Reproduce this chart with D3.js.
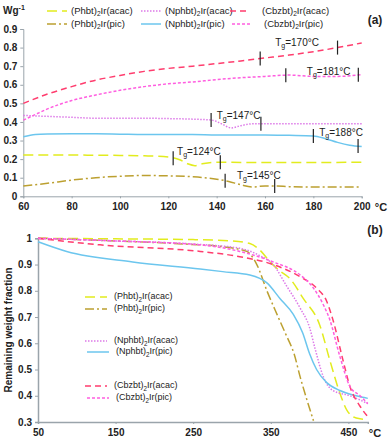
<!DOCTYPE html>
<html>
<head>
<meta charset="utf-8">
<script src="https://cdnjs.cloudflare.com/ajax/libs/d3/7.8.5/d3.min.js"></script>
<style>
  body { margin: 0; background: #fff; }
  svg { font-family: "Liberation Sans", Arial, sans-serif; }
</style>
</head>
<body>
<div id="chart"></div>
<script>
// series names
var names = ["(Phbt)|2|Ir(acac)", "(Phbt)|2|Ir(pic)", "(Nphbt)|2|Ir(acac)",
             "(Nphbt)|2|Ir(pic)", "(Cbzbt)|2|Ir(acac)", "(Cbzbt)|2|Ir(pic)"];
var colors = ["#e2ec1e", "#bca030", "#dd7ae8", "#6cc6ee", "#ff3d6e", "#ff5ee0"];
var dashes = ["10,5", "9,3,2,3", "1.5,1.5", null, "6,4", "3,2"];

// panel (a): heat capacity vs temperature
var tA = [
  [60, 70, 80, 90, 100, 110, 120, 125, 128, 131, 134, 137, 140, 160, 180, 200],
  [60, 70, 80, 90, 100, 110, 120, 130, 135, 140, 145, 150, 155, 160, 165, 170, 180, 200],
  [60, 70, 80, 90, 100, 110, 120, 130, 138, 142, 146, 150, 155, 160, 180, 200],
  [60, 65, 70, 80, 90, 100, 110, 120, 130, 140, 150, 160, 170, 180, 185, 190, 195, 200],
  [60, 70, 80, 90, 100, 110, 120, 130, 140, 150, 160, 170, 180, 190, 200],
  [60, 65, 70, 80, 90, 100, 110, 120, 130, 140, 150, 160, 170, 180, 190, 200]
];
var vA = [
  [0.222, 0.222, 0.222, 0.221, 0.22, 0.218, 0.212, 0.195, 0.175, 0.165, 0.175, 0.181, 0.183, 0.182, 0.182, 0.183],
  [0.055, 0.07, 0.087, 0.1, 0.108, 0.112, 0.11, 0.105, 0.1, 0.092, 0.08, 0.062, 0.05, 0.056, 0.055, 0.052, 0.05, 0.05],
  [0.435, 0.43, 0.425, 0.42, 0.42, 0.42, 0.418, 0.415, 0.41, 0.39, 0.368, 0.38, 0.39, 0.39, 0.39, 0.39],
  [0.32, 0.333, 0.335, 0.336, 0.336, 0.334, 0.332, 0.332, 0.332, 0.33, 0.33, 0.33, 0.328, 0.325, 0.31, 0.29, 0.275, 0.268],
  [0.5, 0.55, 0.59, 0.625, 0.65, 0.672, 0.688, 0.7, 0.714, 0.728, 0.744, 0.76, 0.778, 0.8, 0.825],
  [0.41, 0.44, 0.47, 0.515, 0.545, 0.57, 0.59, 0.605, 0.615, 0.628, 0.638, 0.645, 0.652, 0.645, 0.645, 0.655]
];
// glass transition markers (two per series) and labels
var tgMarks = [[122, 141.5], [143.5, 164], [137.7, 158.3], [180, 198.5], [158, 190], [168.6, 198.6]];
var tgText = ["124", "145", "147", "188", "170", "181"];
var tgAt = [[123.6, 0.24], [148.4, 0.11], [140, 0.433], [182.4, 0.342], [164.2, 0.822], [177.3, 0.67]];

// panel (b): TGA
var tB = [
  [50, 150, 250, 300, 323, 336, 349, 362, 375, 392, 413, 426, 439, 448, 456, 465, 475],
  [50, 150, 246, 288, 319, 332, 345, 358, 370, 380, 388, 397, 405],
  [50, 150, 250, 310, 335, 353, 370, 388, 400, 407, 418, 430, 452, 475],
  [50, 87, 172, 259, 288, 323, 345, 362, 379, 391, 400, 409, 422, 439, 460, 475],
  [50, 130, 259, 310, 353, 388, 409, 422, 430, 443, 452, 465, 475],
  [50, 150, 259, 310, 353, 388, 405, 418, 426, 439, 452, 465, 475]
];
var vB = [
  [1, 0.998, 0.995, 0.99, 0.98, 0.955, 0.91, 0.875, 0.845, 0.77, 0.67, 0.536, 0.41, 0.345, 0.32, 0.312, 0.31],
  [1, 0.99, 0.977, 0.968, 0.95, 0.9, 0.8, 0.71, 0.63, 0.56, 0.47, 0.38, 0.305],
  [1, 0.99, 0.978, 0.962, 0.935, 0.9, 0.82, 0.733, 0.66, 0.58, 0.47, 0.42, 0.40, 0.37],
  [0.987, 0.95, 0.91, 0.883, 0.873, 0.86, 0.83, 0.77, 0.71, 0.64, 0.56, 0.5, 0.45, 0.42, 0.40, 0.39],
  [1, 0.975, 0.95, 0.93, 0.9, 0.853, 0.81, 0.76, 0.69, 0.536, 0.435, 0.36, 0.32],
  [1, 0.99, 0.975, 0.95, 0.91, 0.86, 0.81, 0.745, 0.69, 0.55, 0.435, 0.40, 0.37]
];
var legA = [[47, 11], [47, 24], [141, 11], [141, 24], [230, 11], [232, 24]];
var legB = [[85, 297], [85, 309], [85, 341], [87, 352], [85, 386], [87, 398]];

var W = 392, H = 439;
var svg = d3.select("#chart").append("svg").attr("width", W).attr("height", H);

var axisCol = "#9aa4ab", textCol = "#222";

function addLabel(g, x, y, str, size, anchor) {
  var p = str.split("|");
  var t = g.append("text").attr("x", x).attr("y", y)
    .attr("font-size", size).attr("fill", textCol)
    .attr("dominant-baseline", "middle").attr("text-anchor", anchor || "start");
  t.append("tspan").text(p[0]);
  t.append("tspan").attr("font-size", size * 0.7).attr("dy", size * 0.3).text(p[1]);
  t.append("tspan").attr("dy", -size * 0.3).text(p[2]);
  return t;
}

function styleAxis(g) {
  g.selectAll("path, line").attr("stroke", axisCol);
  g.selectAll("text").attr("font-size", 10).attr("font-weight", "bold").attr("fill", textCol);
}

// ---- panel (a)
var xa = d3.scaleLinear().domain([60, 200]).range([23.3, 361.7]);
var ya = d3.scaleLinear().domain([0, 0.9]).range([196.3, 29]);

var ga = svg.append("g");
ga.append("g").attr("transform", "translate(0," + ya(0) + ")")
  .call(d3.axisBottom(xa).tickValues(d3.range(60, 201, 20)).tickSize(2).tickPadding(5))
  .call(styleAxis);
ga.append("g").attr("transform", "translate(" + xa(60) + ",0)")
  .call(d3.axisLeft(ya).tickValues(d3.range(0, 0.91, 0.1)).tickFormat(d3.format(".1~f")).tickSize(3).tickPadding(3))
  .call(styleAxis);

var lineA = d3.line().curve(d3.curveMonotoneX);
names.forEach(function(n, i) {
  var pts = tA[i].map(function(t, j) { return [xa(t), ya(vA[i][j])]; });
  ga.append("path").attr("d", lineA(pts)).attr("fill", "none")
    .attr("stroke", colors[i]).attr("stroke-width", 1.5)
    .attr("stroke-dasharray", dashes[i]);
});

// Tg markers
var interpA = function(i, t) {
  var xs = tA[i], vs = vA[i];
  for (var j = 1; j < xs.length; j++) {
    if (t <= xs[j]) {
      var f = (t - xs[j - 1]) / (xs[j] - xs[j - 1]);
      return vs[j - 1] + f * (vs[j] - vs[j - 1]);
    }
  }
  return vs[vs.length - 1];
};
tgMarks.forEach(function(m, i) {
  m.forEach(function(t) {
    var cy = ya(interpA(i, t));
    ga.append("line").attr("x1", xa(t)).attr("x2", xa(t))
      .attr("y1", cy - 7).attr("y2", cy + 7)
      .attr("stroke", "#222").attr("stroke-width", 1.2);
  });
  addLabel(ga, xa(tgAt[i][0]), ya(tgAt[i][1]), "T|g|=" + tgText[i] + "°C", 10);
});

// legend (a)
names.forEach(function(n, i) {
  var p = legA[i];
  ga.append("line").attr("x1", p[0]).attr("x2", p[0] + 20).attr("y1", p[1]).attr("y2", p[1])
    .attr("stroke", colors[i]).attr("stroke-width", 1.5).attr("stroke-dasharray", dashes[i]);
  addLabel(ga, p[0] + (i >= 4 ? 32 : 24), p[1], n, 9.5);
});

var wt = ga.append("text").attr("x", 3).attr("y", 14).attr("font-size", 10)
  .attr("font-weight", "bold").attr("fill", textCol);
wt.append("tspan").text("Wg");
wt.append("tspan").attr("font-size", 7).attr("dy", -4).text("-1");
ga.append("text").attr("x", 381).attr("y", 211).attr("font-size", 11)
  .attr("font-weight", "bold").attr("fill", textCol).attr("text-anchor", "middle").text("°C");
ga.append("text").attr("x", 375).attr("y", 24).attr("font-size", 12)
  .attr("font-weight", "bold").attr("fill", textCol).attr("text-anchor", "middle").text("(a)");

// ---- panel (b)
var xb = d3.scaleLinear().domain([50, 475]).range([38, 367.8]);
var yb = d3.scaleLinear().domain([0.3, 1]).range([422, 238.3]);

var gb = svg.append("g");
gb.append("g").attr("transform", "translate(0," + yb(0.3) + ")")
  .call(d3.axisBottom(xb).tickValues([50, 150, 250, 350, 450]).tickSize(2).tickPadding(5))
  .call(styleAxis);
gb.append("g").attr("transform", "translate(" + xb(50) + ",0)")
  .call(d3.axisLeft(yb).tickValues(d3.range(0.3, 1.01, 0.1)).tickFormat(d3.format(".1~f")).tickSize(3).tickPadding(3))
  .call(styleAxis);
gb.selectAll(".domain").attr("stroke-width", 1.5);

var lineB = d3.line().curve(d3.curveMonotoneX);
names.forEach(function(n, i) {
  var pts = tB[i].map(function(t, j) { return [xb(t), yb(vB[i][j])]; });
  gb.append("path").attr("d", lineB(pts)).attr("fill", "none")
    .attr("stroke", colors[i]).attr("stroke-width", 1.5)
    .attr("stroke-dasharray", dashes[i]);
});

names.forEach(function(n, i) {
  var p = legB[i];
  gb.append("line").attr("x1", p[0]).attr("x2", p[0] + 22).attr("y1", p[1]).attr("y2", p[1])
    .attr("stroke", colors[i]).attr("stroke-width", 1.5).attr("stroke-dasharray", dashes[i]);
  addLabel(gb, p[0] + 29, p[1], n, 9);
});

gb.append("text").attr("transform", "translate(9,330) rotate(-90)")
  .attr("font-size", 10).attr("font-weight", "bold").attr("fill", textCol)
  .attr("text-anchor", "middle").attr("dominant-baseline", "middle")
  .text("Remaining weight fraction");
gb.append("text").attr("x", 375).attr("y", 437).attr("font-size", 11)
  .attr("font-weight", "bold").attr("fill", textCol).attr("text-anchor", "middle").text("°C");
gb.append("text").attr("x", 375).attr("y", 234).attr("font-size", 12)
  .attr("font-weight", "bold").attr("fill", textCol).attr("text-anchor", "middle").text("(b)");
</script>
</body>
</html>
